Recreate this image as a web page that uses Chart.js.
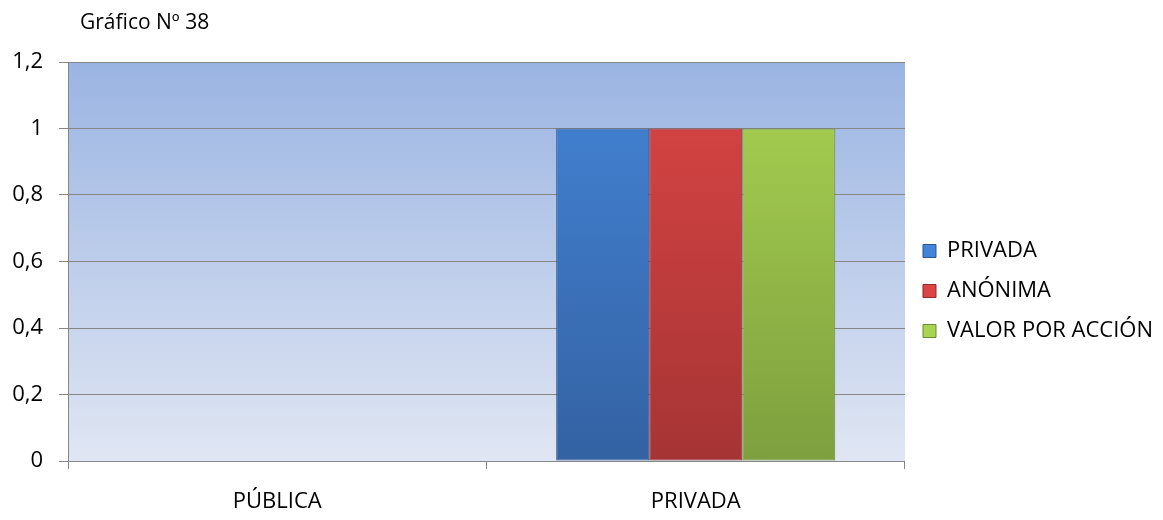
<!DOCTYPE html>
<html>
<head>
<meta charset="utf-8">
<script src="https://cdn.jsdelivr.net/npm/chart.js@4"></script>
<style>
html,body{margin:0;padding:0;background:#fff;}
#wrap{width:1163px;height:520px;position:relative;}
</style>
</head>
<body>
<div id="wrap"><canvas id="c" width="1163" height="520"></canvas></div>
<script>
const chartTitle = 'Gráfico Nº 38';
const categories = ['PÚBLICA', 'PRIVADA'];
const seriesNames = ['PRIVADA', 'ANÓNIMA', 'VALOR POR ACCIÓN'];
const privadaValues = [0, 1];
const anonimaValues = [0, 1];
const valorValues = [0, 1];
const yTicks = [0, 0.2, 0.4, 0.6, 0.8, 1, 1.2];

const FONT = 'Open Sans';
const FS = 22;
const topCols = ['#4384d6', '#db4545', '#a9d352'];
const botCols = ['#3462a3', '#a63434', '#7e9f3e'];
const edgeCols = ['#2c5590', '#8f2b2b', '#6b8a33'];

function barGrad(i) {
  return function(ctx) {
    const ch = ctx.chart; const a = ch.chartArea;
    if (!a) return topCols[i];
    const g = ch.ctx.createLinearGradient(0, a.top, 0, a.bottom);
    g.addColorStop(0, topCols[i]);
    g.addColorStop(1, botCols[i]);
    return g;
  };
}

const bgPlugin = {
  id: 'bgPlugin',
  beforeDraw(chart) {
    const a = chart.chartArea; const c = chart.ctx;
    const g = c.createLinearGradient(0, a.top, 0, a.bottom);
    g.addColorStop(0, '#9ab4e2');
    g.addColorStop(1, '#e0e6f3');
    c.save(); c.fillStyle = g;
    c.fillRect(a.left, a.top, a.right - a.left, a.bottom - a.top);
    c.restore();
  },
  afterDraw(chart) {
    const c = chart.ctx;
    c.save();
    c.font = '21px "' + FONT + '"';
    c.fillStyle = '#000';
    c.textBaseline = 'middle';
    c.fillText(chartTitle, 80, 23);
    c.restore();
  }
};

const datasets = [privadaValues, anonimaValues, valorValues].map((d, i) => ({
  label: seriesNames[i],
  data: d,
  backgroundColor: barGrad(i),
  borderColor: edgeCols[i],
  borderWidth: 1,
  borderSkipped: false,
  barPercentage: 1,
  categoryPercentage: 0.667
}));

new Chart(document.getElementById('c'), {
  type: 'bar',
  data: { labels: categories, datasets },
  options: {
    responsive: false,
    animation: false,
    layout: { padding: { left: 12, top: 62, right: 0, bottom: 0 } },
    plugins: {
      legend: {
        position: 'right',
        maxWidth: 262,
        labels: {
          color: '#000',
          font: { family: FONT, size: FS },
          boxWidth: 13, boxHeight: 13,
          padding: 18,
          generateLabels(chart) {
            return chart.data.datasets.map((ds, i) => ({
              text: ds.label, fillStyle: topCols[i], strokeStyle: edgeCols[i],
              lineWidth: 1, datasetIndex: i, hidden: false
            }));
          }
        }
      },
      tooltip: { enabled: false }
    },
    scales: {
      x: {
        afterFit(axis) { axis.height = 59; },
        grid: { drawOnChartArea: false, drawTicks: true, tickLength: 8, color: '#868686', offset: true },
        border: { color: '#868686', width: 1 },
        ticks: { color: '#000', font: { family: FONT, size: FS }, padding: 20 }
      },
      y: {
        min: 0, max: 1.2,
        afterFit(axis) { axis.width = 56; },
        afterBuildTicks(axis) { axis.ticks = yTicks.map(v => ({ value: v })); },
        grid: { color: '#868686', tickLength: 9, drawTicks: true },
        border: { color: '#868686', width: 1 },
        ticks: {
          color: '#000', font: { family: FONT, size: FS }, padding: 16,
          callback: v => String(Math.round(v * 10) / 10).replace('.', ',')
        }
      }
    }
  },
  plugins: [bgPlugin]
});
</script>
</body>
</html>
